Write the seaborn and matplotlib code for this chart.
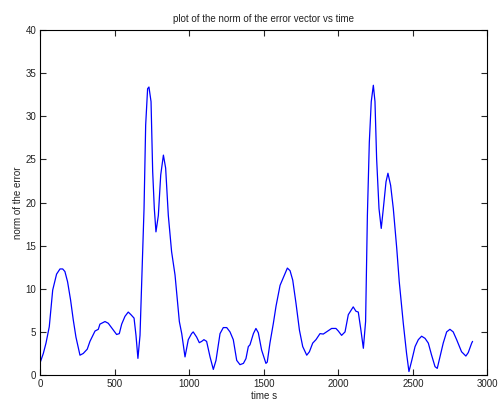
import matplotlib
matplotlib.use("Agg")
import matplotlib.pyplot as plt
import numpy as np
import pandas as pd
import seaborn as sns

# time samples (s) and norm of the error vector
time_s = [0, 19, 37, 59, 82, 108, 131, 149, 164, 182, 202, 220, 238, 265, 287,
          314, 332, 366, 388, 399, 433, 455, 489, 511, 529, 545, 567, 589, 607,
          628, 641, 654, 668, 681, 695, 706, 719, 728, 742, 753, 764, 775, 791,
          807, 825, 840, 858, 880, 903, 932, 948, 970, 992, 1014, 1025, 1048,
          1066, 1082, 1097, 1115, 1138, 1160, 1178, 1205, 1227, 1250, 1272, 1294,
          1317, 1339, 1362, 1379, 1395, 1406, 1429, 1446, 1462, 1484, 1513, 1522,
          1540, 1563, 1581, 1608, 1630, 1657, 1675, 1693, 1715, 1738, 1760, 1787,
          1805, 1827, 1849, 1876, 1898, 1920, 1954, 1983, 1999, 2021, 2044, 2066,
          2077, 2099, 2117, 2133, 2149, 2167, 2182, 2194, 2207, 2220, 2234, 2245,
          2256, 2272, 2287, 2301, 2319, 2332, 2350, 2368, 2391, 2408, 2435, 2457,
          2473, 2492, 2514, 2536, 2558, 2581, 2603, 2625, 2648, 2663, 2681, 2703,
          2726, 2748, 2770, 2793, 2826, 2855, 2871, 2894, 2900]
error_norm = [1.55, 2.5, 3.7, 5.6, 9.85, 11.7, 12.3, 12.3, 12.0, 10.8, 8.7, 6.4,
              4.4, 2.3, 2.5, 3.0, 3.9, 5.1, 5.3, 5.9, 6.2, 6.0, 5.2, 4.7, 4.8,
              5.9, 6.8, 7.3, 7.0, 6.6, 4.6, 1.93, 4.6, 11.6, 19.3, 29.0, 33.2,
              33.4, 31.7, 23.6, 19.3, 16.6, 18.5, 23.2, 25.5, 24.0, 18.5, 14.3,
              11.6, 6.2, 4.8, 2.1, 4.1, 4.8, 5.0, 4.4, 3.75, 3.9, 4.1, 3.9, 2.1,
              0.65, 1.7, 4.8, 5.5, 5.5, 5.0, 4.1, 1.7, 1.2, 1.35, 1.9, 3.3, 3.5,
              4.8, 5.4, 4.9, 2.9, 1.35, 1.5, 3.7, 6.0, 8.0, 10.4, 11.3, 12.4,
              12.1, 11.0, 8.3, 5.2, 3.3, 2.3, 2.7, 3.7, 4.1, 4.8, 4.75, 5.0, 5.4,
              5.4, 5.1, 4.6, 5.0, 7.0, 7.3, 7.9, 7.4, 7.3, 5.4, 3.1, 6.2, 18.5,
              27.0, 31.7, 33.6, 31.7, 25.1, 19.3, 17.0, 19.3, 22.4, 23.4, 22.0,
              19.3, 14.7, 10.8, 6.0, 2.5, 0.4, 1.7, 3.3, 4.1, 4.5, 4.25, 3.7, 2.3,
              0.97, 0.77, 2.1, 3.7, 5.0, 5.3, 5.0, 4.1, 2.7, 2.2, 2.6, 3.7, 3.9]

x_ticks = [0, 500, 1000, 1500, 2000, 2500, 3000]
y_ticks = [0, 5, 10, 15, 20, 25, 30, 35, 40]

sns.set_style("white")
plt.rcParams["font.family"] = ["Liberation Sans", "DejaVu Sans"]

df = pd.DataFrame({"t": time_s, "err": error_norm})

fig = plt.figure(figsize=(5.01, 4.01), dpi=100)
ax = fig.add_axes([0.0808, 0.0648, 0.8922, 0.8602])
sns.lineplot(data=df, x="t", y="err", ax=ax, color="#0000ff",
             linewidth=0.9, sort=False, estimator=None)

ax.set_xlim(0, 3000)
ax.set_ylim(0, 40)
ax.set_xticks(x_ticks)
ax.set_yticks(y_ticks)
ax.tick_params(direction="in", length=4, width=0.8, labelsize=7,
               labelcolor="#222222", top=True, right=True, bottom=True,
               left=True, pad=3)
for s in ax.spines.values():
    s.set_visible(True)
    s.set_color("black")
    s.set_linewidth(0.8)

ax.set_title("plot of the norm of the error vector vs time", fontsize=7, pad=6,
             color="#222222")
ax.set_xlabel("time s", fontsize=7, labelpad=1, color="#222222")
ax.set_ylabel("norm of the error", fontsize=7, labelpad=2, color="#222222")

fig.savefig("out.png", dpi=100, facecolor="white")
